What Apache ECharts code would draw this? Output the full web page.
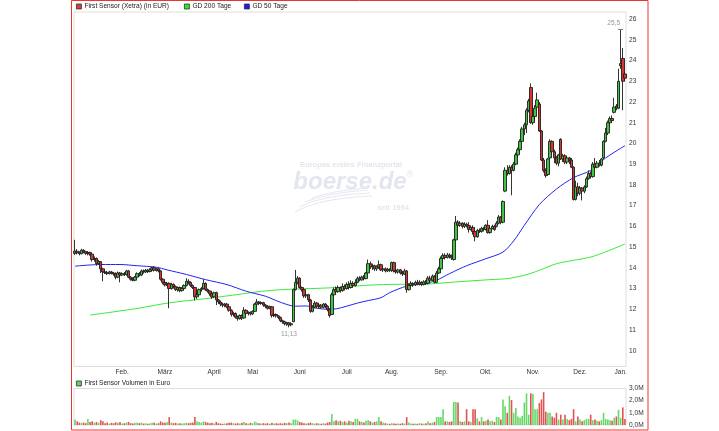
<!DOCTYPE html>
<html><head><meta charset="utf-8">
<script src="https://cdn.jsdelivr.net/npm/echarts@6/dist/echarts.min.js"></script>
<style>html,body{margin:0;padding:0;background:#fff}#c{width:719px;height:431px}</style>
</head><body><div id="c"></div>
<script>
// ---- data (EUR, daily, Xetra) ----
const openP = [
14.70,14.80,14.72,14.68,14.85,14.78,14.70,14.74,14.66,14.40,
14.45,14.20,14.30,13.95,13.80,13.78,13.72,13.80,13.75,13.70,
13.55,13.75,13.65,13.72,13.68,13.85,13.55,13.45,13.40,13.55,
13.72,13.65,13.85,13.80,13.88,13.82,13.90,14.00,13.88,13.95,
13.85,13.45,13.30,13.18,13.25,13.00,13.20,13.10,12.95,13.05,
12.90,13.00,13.15,13.35,13.30,13.15,13.05,12.60,12.70,12.95,
13.00,13.25,12.95,12.88,12.75,12.60,12.80,12.45,12.35,12.25,
12.20,12.25,12.12,11.95,11.75,11.80,11.62,11.55,11.70,11.58,
11.95,11.80,11.85,11.78,11.90,12.25,12.35,12.28,12.32,12.20,
12.15,12.05,12.12,11.70,11.75,11.68,11.60,11.45,11.40,11.30,
11.35,11.25,11.40,12.95,13.30,13.50,13.05,12.95,12.65,12.70,
12.45,11.90,12.10,12.30,12.15,12.20,12.10,12.25,12.15,12.00,
11.75,12.70,12.95,12.85,13.05,12.90,13.10,13.00,13.20,13.05,
13.25,13.15,13.30,13.50,13.42,13.55,13.48,13.75,14.20,14.05,
14.10,13.95,14.05,14.15,13.90,13.95,13.85,13.92,13.88,14.25,
13.85,13.80,13.90,13.75,13.70,13.85,12.95,13.15,13.25,13.18,
13.30,13.22,13.30,13.20,13.32,13.25,13.50,13.40,13.60,13.30,
13.75,13.95,14.45,14.60,14.50,14.62,14.55,14.40,15.35,16.20,
16.05,16.15,16.00,16.10,16.05,15.85,15.95,15.75,15.50,15.80,
15.75,15.90,15.85,16.05,15.70,15.90,16.00,16.00,16.15,16.45,
16.20,17.70,18.70,18.55,18.85,18.70,19.00,19.45,19.70,20.10,
20.70,20.90,21.60,22.70,21.00,21.30,21.75,21.90,20.60,19.20,
18.70,18.50,19.30,20.10,19.60,19.30,19.05,20.20,19.25,19.40,
19.10,19.30,19.20,18.85,17.30,17.90,17.60,17.85,17.70,17.90,
18.30,18.55,18.40,19.00,18.85,19.05,18.95,19.30,20.10,20.50,
21.00,21.20,21.50,21.80,21.70,23.75,24.10,23.35];
const closeP = [
14.80,14.72,14.68,14.85,14.78,14.70,14.74,14.66,14.40,14.45,
14.20,14.30,13.95,13.80,13.78,13.72,13.80,13.75,13.70,13.55,
13.75,13.65,13.72,13.68,13.85,13.55,13.45,13.40,13.55,13.72,
13.65,13.85,13.80,13.88,13.82,13.90,14.00,13.88,13.95,13.85,
13.45,13.30,13.18,13.25,13.00,13.20,13.10,12.95,13.05,12.90,
13.00,13.15,13.35,13.30,13.15,13.05,12.60,12.70,12.95,13.00,
13.25,12.95,12.88,12.75,12.60,12.80,12.45,12.35,12.25,12.20,
12.25,12.12,11.95,11.75,11.80,11.62,11.55,11.70,11.58,11.95,
11.80,11.85,11.78,11.90,12.25,12.35,12.28,12.32,12.20,12.15,
12.05,12.12,11.70,11.75,11.68,11.60,11.45,11.40,11.30,11.35,
11.25,11.30,12.95,13.30,13.50,13.05,12.95,12.65,12.70,12.45,
11.90,12.10,12.30,12.15,12.20,12.10,12.25,12.15,12.00,11.70,
12.70,12.95,12.85,13.05,12.90,13.10,13.00,13.20,13.05,13.25,
13.15,13.30,13.50,13.42,13.55,13.48,13.75,14.20,14.05,14.10,
13.95,14.05,14.15,13.90,13.95,13.85,13.92,13.88,14.25,13.85,
13.80,13.90,13.75,13.70,13.85,12.95,13.15,13.25,13.18,13.30,
13.22,13.30,13.20,13.32,13.25,13.50,13.40,13.60,13.30,13.75,
13.95,14.45,14.60,14.50,14.62,14.55,14.48,15.35,16.20,16.05,
16.15,16.00,16.10,16.05,15.85,15.95,15.75,15.50,15.80,15.75,
15.90,15.85,16.05,15.70,15.90,16.00,15.85,16.15,16.45,16.20,
17.20,18.70,18.55,18.85,18.70,19.00,19.45,19.70,20.10,20.70,
20.90,21.60,22.05,21.00,21.30,21.70,22.10,20.60,19.20,18.70,
18.45,19.25,20.10,19.60,19.30,19.05,19.45,19.25,19.40,19.10,
19.30,19.20,18.85,17.30,17.90,17.60,17.85,17.70,17.90,18.30,
18.55,18.40,19.00,18.85,19.05,18.95,19.25,20.10,20.50,21.00,
21.20,21.10,21.75,21.70,23.00,23.85,23.00,23.15];
const lowP = [
14.62,14.65,14.60,14.65,14.70,14.62,14.60,14.58,14.30,14.30,
14.10,14.15,13.75,13.35,13.70,13.65,13.68,13.68,13.62,13.45,
13.50,13.30,13.60,13.60,13.62,13.50,13.38,13.35,13.35,13.50,
13.58,13.60,13.72,13.75,13.75,13.78,13.85,13.82,13.82,13.78,
13.38,13.20,13.10,13.12,12.05,12.95,13.00,12.88,12.85,12.82,
12.85,12.95,13.10,13.20,13.08,12.98,12.42,12.50,12.65,12.85,
12.95,12.88,12.80,12.65,12.50,12.55,12.20,12.25,12.15,12.10,
12.10,12.05,11.88,11.65,11.65,11.55,11.45,11.50,11.48,11.55,
11.72,11.70,11.70,11.72,11.88,12.20,12.20,12.22,12.12,12.05,
11.98,12.00,11.60,11.62,11.60,11.52,11.38,11.30,11.22,11.20,
11.13,11.18,11.38,12.90,13.20,13.00,12.85,12.55,12.55,12.35,
11.83,11.85,12.05,12.05,12.05,12.02,12.05,12.05,11.90,11.60,
11.72,12.65,12.75,12.80,12.80,12.85,12.90,12.95,12.95,13.00,
13.05,13.10,13.25,13.35,13.38,13.40,13.45,13.70,13.95,13.90,
13.85,13.85,13.95,13.85,13.80,13.78,13.80,13.80,13.80,13.78,
13.72,13.72,13.68,13.60,13.65,12.80,12.90,13.10,13.08,13.12,
13.15,13.15,13.12,13.15,13.18,13.20,13.30,13.35,13.25,13.28,
13.70,13.90,14.35,14.40,14.45,14.45,14.38,14.35,15.30,15.95,
15.98,15.90,15.92,15.95,15.70,15.80,15.60,15.28,15.45,15.68,
15.70,15.75,15.80,15.65,15.65,15.85,15.78,15.95,16.10,16.10,
16.15,17.65,18.45,18.50,17.50,18.65,18.95,19.35,19.60,20.05,
20.40,20.50,21.50,20.95,20.90,21.10,21.70,20.55,19.15,18.60,
18.35,18.45,19.25,19.50,19.05,18.95,18.90,19.20,19.10,19.00,
19.00,19.00,18.80,17.25,17.25,17.45,17.50,17.25,17.60,17.85,
18.25,18.30,18.35,18.78,18.80,18.88,18.90,19.25,20.05,20.40,
20.85,21.00,21.45,21.60,21.65,23.60,21.60,23.00];
const highP = [
15.35,14.90,14.80,14.92,14.90,14.82,14.80,14.78,14.70,14.55,
14.50,14.38,14.32,14.00,13.88,13.85,13.86,13.85,13.80,13.78,
13.82,13.80,13.78,13.80,13.90,13.90,13.60,13.55,13.60,13.78,
13.80,13.92,13.92,13.95,13.95,13.98,14.05,14.08,14.00,14.00,
13.90,13.50,13.35,13.32,13.30,13.28,13.25,13.15,13.10,13.10,
13.05,13.20,13.50,13.45,13.35,13.20,13.08,12.85,13.00,13.08,
13.45,13.30,13.00,12.92,12.80,12.85,12.85,12.50,12.42,12.32,
12.30,12.30,12.15,12.00,11.88,11.85,11.70,11.75,11.75,12.10,
12.00,11.90,11.90,11.95,12.30,12.50,12.40,12.38,12.36,12.25,
12.20,12.18,12.15,11.82,11.80,11.72,11.65,11.50,11.45,11.40,
11.38,11.35,13.00,13.90,13.60,13.55,13.10,13.00,12.80,12.75,
12.50,12.20,12.40,12.35,12.28,12.25,12.30,12.30,12.20,12.05,
12.80,13.05,13.10,13.15,13.10,13.25,13.20,13.30,13.35,13.40,
13.35,13.45,13.58,13.60,13.62,13.65,13.80,14.40,14.30,14.20,
14.15,14.12,14.35,14.20,14.00,14.02,14.00,13.98,14.30,14.30,
13.95,13.95,13.95,13.85,13.95,13.90,13.25,13.35,13.30,13.38,
13.42,13.40,13.35,13.40,13.42,13.60,13.62,13.68,13.65,13.85,
14.05,14.55,14.70,14.70,14.72,14.70,14.65,15.40,16.50,16.30,
16.25,16.20,16.20,16.18,16.20,16.05,16.05,15.80,15.88,15.90,
15.98,15.98,16.10,16.30,16.00,16.08,16.08,16.25,16.55,16.50,
17.25,18.85,18.95,18.95,18.95,19.10,19.55,19.80,20.20,20.80,
21.00,21.70,22.15,22.90,21.80,21.85,22.45,22.00,20.65,19.30,
18.80,19.30,20.20,20.15,19.70,19.40,19.50,20.25,19.50,19.48,
19.40,19.35,19.30,18.90,18.20,18.10,17.95,17.90,17.98,18.40,
18.70,18.65,19.10,19.30,19.15,19.20,19.30,20.15,20.75,21.10,
21.30,21.35,22.20,21.90,23.60,25.50,24.60,23.45];
// volume in million EUR
const volumeM = [
0.45,0.30,0.20,0.18,0.20,0.15,0.50,0.25,0.30,0.20,
0.25,0.18,0.40,0.30,0.15,0.20,0.12,0.18,0.15,0.22,
0.18,0.25,0.12,0.15,0.20,0.25,0.15,0.12,0.18,0.20,
0.15,0.20,0.12,0.15,0.10,0.15,0.18,0.20,0.12,0.15,
0.30,0.20,0.18,0.25,0.65,0.20,0.15,0.18,0.12,0.15,
0.12,0.15,0.20,0.15,0.18,0.20,0.65,0.30,0.25,0.20,
0.30,0.25,0.20,0.15,0.18,0.12,0.25,0.15,0.12,0.10,
0.12,0.15,0.18,0.20,0.15,0.12,0.15,0.12,0.18,0.25,
0.15,0.12,0.18,0.15,0.28,0.20,0.15,0.12,0.15,0.12,
0.15,0.10,0.18,0.12,0.15,0.12,0.15,0.12,0.18,0.15,
0.20,0.15,0.45,0.45,0.38,0.25,0.20,0.15,0.12,0.15,
0.20,0.15,0.12,0.15,0.12,0.10,0.15,0.12,0.20,0.25,
0.90,0.30,0.40,0.30,0.35,0.25,0.30,0.20,0.35,0.30,
0.25,0.50,0.50,0.30,0.25,0.20,0.35,0.40,0.30,0.20,
0.25,0.30,0.65,0.30,0.20,0.15,0.12,0.10,0.15,0.12,
0.10,0.12,0.10,0.15,0.12,0.65,0.20,0.12,0.10,0.12,
0.10,0.15,0.12,0.10,0.15,0.30,0.15,0.20,0.25,0.65,
0.65,0.65,1.30,0.30,0.30,0.25,0.30,1.90,1.90,1.85,
0.30,0.25,0.30,1.30,0.30,0.25,1.30,1.30,0.55,0.30,
0.65,0.30,0.35,0.45,0.30,0.35,0.25,0.65,0.65,0.45,
2.10,1.55,1.00,2.40,2.05,1.00,1.40,0.70,0.60,0.75,
1.85,2.60,0.85,2.60,2.55,1.30,1.30,1.80,2.10,2.70,
1.10,1.00,1.00,0.70,0.60,1.00,0.45,0.85,0.45,0.85,
0.50,0.40,0.50,1.30,0.30,0.70,0.45,0.30,0.40,0.50,
0.50,0.85,0.40,0.45,0.35,0.30,0.40,1.00,0.50,0.45,
0.40,0.35,0.60,0.70,1.25,0.60,1.45,0.50];
// moving averages: [trading-day index, value]
const gd200 = [[7,11.72],[29,12.04],[44,12.31],[60,12.5],[66,12.58],[76,12.71],[85,12.84],[94,12.93],[104,12.98],[116,13.02],[127,13.08],[135,13.15],[147,13.2],[163,13.21],[178,13.32],[194,13.43],[202,13.48],[210,13.64],[217,13.88],[225,14.2],[233,14.36],[241,14.52],[248,14.77],[257,15.15]];
const gd50 = [[0,14.08],[12,14.16],[21,14.16],[29,14.1],[38,14.03],[43,13.9],[52,13.68],[61,13.43],[71,13.19],[80,12.87],[89,12.63],[94,12.42],[99,12.23],[103,12.15],[108,12.16],[113,12.05],[118,12.0],[122,12.02],[127,12.15],[132,12.3],[137,12.42],[143,12.56],[147,12.8],[155,13.12],[160,13.2],[165,13.28],[169,13.4],[175,13.72],[183,14.1],[192,14.44],[200,14.76],[205,15.3],[210,16.05],[217,17.05],[225,17.8],[233,18.35],[241,18.7],[248,19.3],[257,19.89]];
const monthNames = {'01':'Jan.','02':'Feb.','03':'März','04':'April','05':'Mai','06':'Juni','07':'Juli','08':'Aug.','09':'Sep.','10':'Okt.','11':'Nov.','12':'Dez.'};
const holidays = ['2017-04-14','2017-04-17','2017-05-01','2017-12-25','2017-12-26','2018-01-01'];

// trading-day calendar
const dates = [];
for (let d = new Date(Date.UTC(2017,0,2)); dates.length < openP.length; d.setUTCDate(d.getUTCDate()+1)) {
  const wd = d.getUTCDay(); const s = d.toISOString().slice(0,10);
  if (wd === 0 || wd === 6 || holidays.includes(s)) continue;
  dates.push(s);
}
const monthStart = new Set();
dates.forEach((s,i)=>{ if (i>0 && s.slice(5,7)!==dates[i-1].slice(5,7)) monthStart.add(i); });

const candles = dates.map((_,i)=>[openP[i], closeP[i], lowP[i], highP[i]]);
const UP='#3fc63f', DOWN='#d83434';
const vols = dates.map((_,i)=>({value: volumeM[i], itemStyle:{color: closeP[i]>=openP[i] ? '#66d866' : '#e25252'}}));

const FF = '"Liberation Sans", Arial, sans-serif';
const fs = 6.6;
const WM = '#e3e6ee';
const chart = echarts.init(document.getElementById('c'), null, {renderer:'canvas'});
const legendBase = {orient:'horizontal', padding:0, itemWidth:5, itemHeight:5, itemGap:4, selectedMode:false,
  textStyle:{fontSize:fs, color:'#222', fontFamily:FF, padding:[0,0,0,-2]}};
const swoosh = (x1,y1,cx,cy,x2,y2)=>({type:'bezierCurve', silent:true, z:-5, shape:{x1, y1, cpx1:cx, cpy1:cy, x2, y2}, style:{fill:null, stroke:'#e5e8ef', lineWidth:1}});
chart.setOption({
  animation:false,
  backgroundColor:'#fff',
  textStyle:{fontFamily:FF},
  legend:[
    Object.assign({}, legendBase, {left:76, top:3, data:[{name:'First Sensor (Xetra) (in EUR)', icon:'rect', itemStyle:{color:'#e03a3a', borderColor:'#333', borderWidth:0.8}}]}),
    Object.assign({}, legendBase, {left:184, top:3, data:[{name:'GD 200 Tage', icon:'rect', itemStyle:{color:'#2ee82e', borderColor:'#333', borderWidth:0.8}}]}),
    Object.assign({}, legendBase, {left:244, top:3, data:[{name:'GD 50 Tage', icon:'rect', itemStyle:{color:'#1a1aff', borderColor:'#333', borderWidth:0.8}}]}),
    Object.assign({}, legendBase, {left:76, top:380, data:[{name:'First Sensor Volumen in Euro', icon:'rect', itemStyle:{color:'#5fd35f', borderColor:'#333', borderWidth:0.8}}]})
  ],
  graphic:[
    {type:'rect', silent:true, z:-10, shape:{x:71.5, y:0.5, width:576.5, height:429.5}, style:{fill:null, stroke:'#e33', lineWidth:1}},
    {type:'text', silent:true, z:-5, style:{text:'Europas erstes Finanzportal', x:351, y:165, textAlign:'center', textVerticalAlign:'middle', font:'bold 7.6px '+FF, fill:WM}},
    {type:'text', silent:true, z:-5, style:{text:'boerse.de', x:350, y:182, textAlign:'center', textVerticalAlign:'middle', font:'italic bold 24px '+FF, fill:WM}},
    {type:'text', silent:true, z:-5, style:{text:'®', x:410, y:175, textAlign:'center', textVerticalAlign:'middle', font:'9px '+FF, fill:WM}},
    {type:'text', silent:true, z:-5, style:{text:'seit 1994', x:393, y:208, textAlign:'center', textVerticalAlign:'middle', font:'bold 7.5px '+FF, fill:WM}},
    swoosh(295,212,320,198,372,196),
    swoosh(299,207,322,195,370,193),
    swoosh(305,202,326,193,368,190),
    swoosh(312,198,330,191,366,188)
  ],
  grid:[
    {left:74, top:12, width:552, height:354.5, show:true, borderColor:'#dedede', borderWidth:1, backgroundColor:'transparent'},
    {left:74, top:388.5, width:552, height:36.5, show:true, borderColor:'#dedede', borderWidth:1, backgroundColor:'transparent'}
  ],
  xAxis:[
    {type:'category', gridIndex:0, data:dates, boundaryGap:true,
     axisLine:{show:false}, axisTick:{show:false}, splitLine:{show:false},
     axisLabel:{interval:(i)=>monthStart.has(i), formatter:(v)=>monthNames[v.slice(5,7)], fontSize:fs, color:'#333', margin:2, fontFamily:FF}},
    {type:'category', gridIndex:1, data:dates, boundaryGap:true,
     axisLine:{show:false}, axisTick:{show:false}, axisLabel:{show:false}, splitLine:{show:false}}
  ],
  yAxis:[
    {type:'value', gridIndex:0, position:'right', min:9.24, max:26.34, splitNumber:17,
     axisLine:{show:false}, axisTick:{show:false}, splitLine:{show:false},
     axisLabel:{showMinLabel:false, showMaxLabel:false, fontSize:fs, color:'#333', margin:3, fontFamily:FF}},
    {type:'value', gridIndex:1, position:'right', min:0, max:3, interval:1,
     axisLine:{show:false}, axisTick:{show:false}, splitLine:{show:false},
     axisLabel:{fontSize:fs, color:'#333', margin:3, fontFamily:FF, formatter:(v)=>v.toFixed(1).replace('.',',')+'M'}}
  ],
  series:[
    {name:'GD 200 Tage', type:'line', xAxisIndex:0, yAxisIndex:0, data:gd200, smooth:0.3, showSymbol:false,
     lineStyle:{color:'#3aea3a', width:1}, itemStyle:{color:'#3aea3a'}, z:1},
    {name:'GD 50 Tage', type:'line', xAxisIndex:0, yAxisIndex:0, data:gd50, smooth:0.3, showSymbol:false,
     lineStyle:{color:'#2424f0', width:1}, itemStyle:{color:'#2424f0'}, z:1},
    {name:'First Sensor (Xetra) (in EUR)', type:'candlestick', xAxisIndex:0, yAxisIndex:0, data:candles,
     barWidth:3, z:3,
     itemStyle:{color:UP, color0:DOWN, borderColor:'#1e1e1e', borderColor0:'#1e1e1e', borderWidth:0.9},
     markPoint:{
       symbol:'rect', symbolSize:[5,1], itemStyle:{color:'#777'},
       label:{show:true, fontSize:fs, color:'#999', fontFamily:FF, formatter:(p)=>String(p.value).replace('.',',')},
       data:[
         {type:'max', valueDim:'highest', label:{position:'top', distance:2, offset:[-7,0]}},
         {type:'min', valueDim:'lowest', symbolSize:[0.1,0.1], itemStyle:{color:'rgba(0,0,0,0)'}, label:{position:'bottom', distance:3}}
       ]
     }},
    {name:'First Sensor Volumen in Euro', type:'bar', xAxisIndex:1, yAxisIndex:1, data:vols, barWidth:1.6, itemStyle:{color:'#66d866'}}
  ]
});
</script></body></html>
